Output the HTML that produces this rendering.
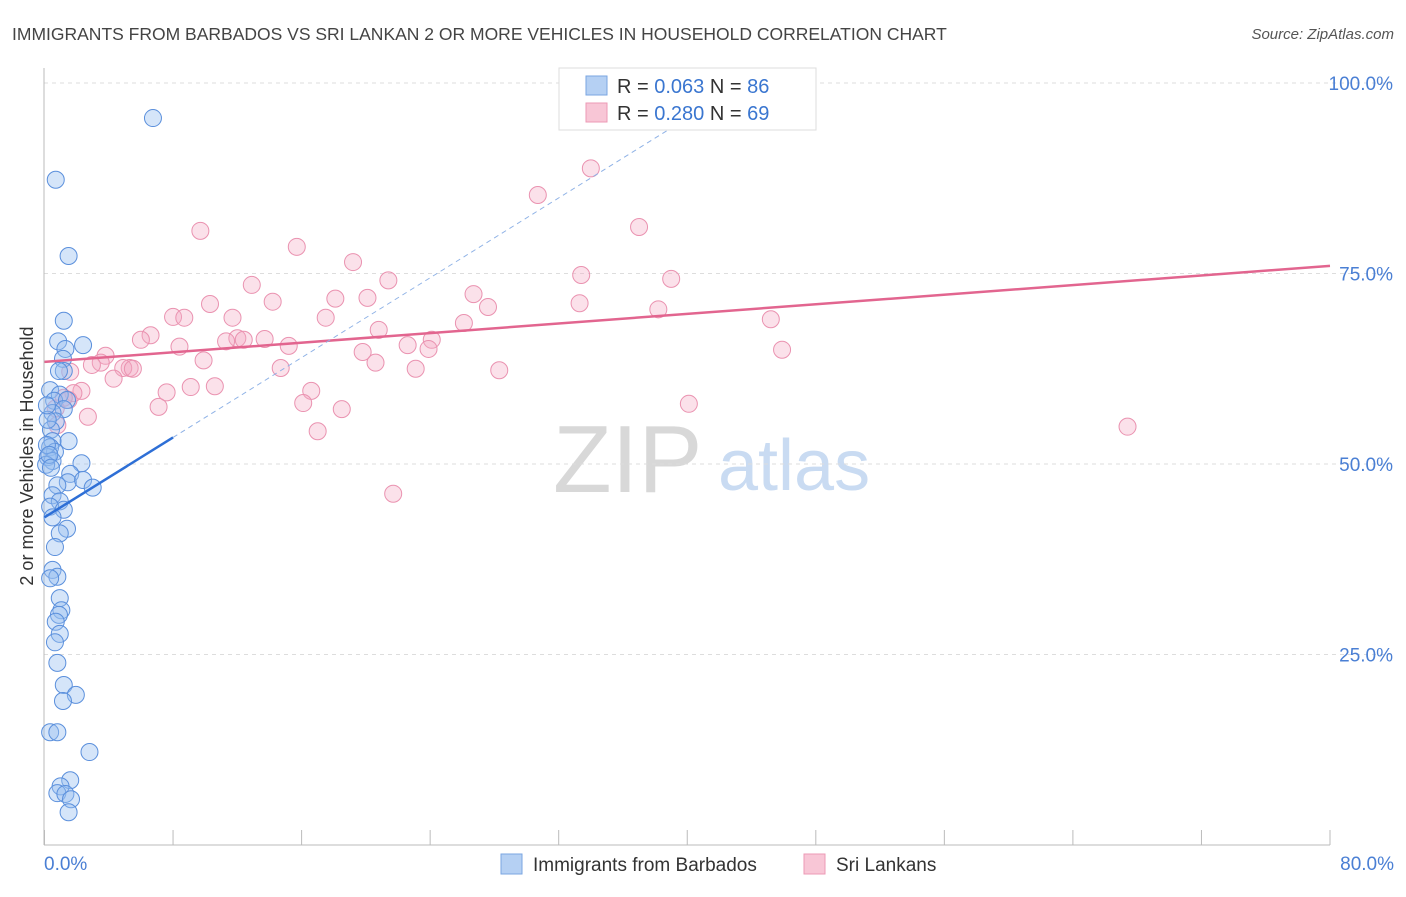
<!DOCTYPE html>
<html><head><meta charset="utf-8"><style>
body{margin:0;background:#fff;font-family:"Liberation Sans",sans-serif;}
svg text{font-family:"Liberation Sans",sans-serif;}
</style></head><body>
<svg id="chart" width="1406" height="892" xmlns="http://www.w3.org/2000/svg">
<text x="12" y="40" font-size="17.5" fill="#444">IMMIGRANTS FROM BARBADOS VS SRI LANKAN 2 OR MORE VEHICLES IN HOUSEHOLD CORRELATION CHART</text>
<text x="1394" y="39" font-size="15" fill="#555" text-anchor="end" font-style="italic">Source: ZipAtlas.com</text>
<g>
<text x="553" y="492" font-size="96" fill="#d8d8d8" font-family="Liberation Serif, serif">ZIP</text>
<text x="718" y="490" font-size="72" fill="#c9dbf2">atlas</text>
</g>
<g id="grid"></g><g id="axes"></g><g id="pts"></g><g id="lines"></g>
<text transform="translate(33,456) rotate(-90)" font-size="18" fill="#333" text-anchor="middle">2 or more Vehicles in Household</text>
<g>
<rect x="559" y="68" width="257" height="62" fill="#fff" stroke="#ddd"/>
<rect x="586" y="76" width="21" height="19" fill="#b5d0f3" stroke="#7aa6e2"/>
<text x="617" y="93" font-size="20" fill="#333">R = <tspan fill="#3a76d0">0.063</tspan>   N = <tspan fill="#3a76d0">86</tspan></text>
<rect x="586" y="103" width="21" height="19" fill="#f8c6d6" stroke="#ec9ab5"/>
<text x="617" y="120" font-size="20" fill="#333">R = <tspan fill="#3a76d0">0.280</tspan>   N = <tspan fill="#3a76d0">69</tspan></text>
</g>
<g>
<rect x="501" y="854" width="21" height="20" fill="#b5d0f3" stroke="#7aa6e2"/>
<text x="533" y="871" font-size="19" fill="#333">Immigrants from Barbados</text>
<rect x="804" y="854" width="21" height="20" fill="#f8c6d6" stroke="#ec9ab5"/>
<text x="836" y="871" font-size="19" fill="#333">Sri Lankans</text>
</g>
</svg>
<script>
const blueX=[6.75,0.7,1.5,1.2,2.4,0.85,1.3,1.15,1.2,0.9,0.35,0.95,0.6,1.4,1.2,0.5,0.7,0.4,1.5,0.5,0.35,0.65,0.2,0.5,2.3,1.6,1.45,0.8,2.4,3.0,0.5,0.95,0.35,1.2,0.5,1.4,0.95,0.65,0.5,0.8,0.35,0.95,1.05,0.9,0.7,0.95,0.65,0.8,1.2,1.95,1.15,0.35,0.8,2.8,1.6,1.0,0.8,1.3,1.65,1.5,0.15,0.1,0.3,0.4,0.2,0.15];
const blueY=[95.4,87.3,77.3,68.8,65.6,66.1,65.1,63.8,62.2,62.2,59.7,59.1,58.3,58.4,57.2,56.7,55.6,54.5,53.0,53.0,52.2,51.6,50.9,50.4,50.1,48.7,47.6,47.2,47.9,46.9,45.9,45.1,44.4,44.0,43.0,41.5,40.9,39.1,36.1,35.2,35.0,32.4,30.8,30.2,29.3,27.7,26.6,23.9,21.0,19.7,18.9,14.8,14.8,12.2,8.5,7.7,6.8,6.7,6.0,4.3,52.5,49.9,51.2,49.5,55.8,57.7];
const pinkX=[34.0,30.7,37.0,9.7,15.7,19.2,21.4,33.4,39.0,12.9,26.7,18.1,20.1,10.3,14.2,33.3,27.6,38.2,8.0,8.7,11.7,17.5,26.1,45.2,6.6,6.0,20.8,12.0,12.4,13.7,11.3,24.1,8.4,15.2,22.6,23.9,19.8,45.9,3.8,9.9,3.5,2.95,20.6,14.7,5.3,4.9,5.5,1.6,23.1,28.3,4.3,2.3,9.1,10.6,7.6,1.8,1.5,16.6,16.1,40.1,7.1,0.7,18.5,2.7,0.8,17.0,67.4,21.7,1.2];
const pinkY=[88.8,85.3,81.1,80.6,78.5,76.5,74.1,74.8,74.3,73.5,72.3,71.7,71.8,71.0,71.3,71.1,70.6,70.3,69.3,69.2,69.2,69.2,68.5,69.0,66.9,66.3,67.6,66.5,66.3,66.4,66.1,66.3,65.4,65.5,65.6,65.1,64.7,65.0,64.2,63.6,63.3,63.0,63.3,62.6,62.6,62.6,62.5,62.1,62.5,62.3,61.2,59.6,60.1,60.2,59.4,59.3,58.4,59.6,58.0,57.9,57.5,57.3,57.2,56.2,55.1,54.3,54.9,46.1,58.7];
const blueLine=[43.0,1.31];   // intercept, slope
const pinkLine=[63.4,0.1575];
const yTicks=[25,50,75,100];
const yTickLabels=["25.0%","50.0%","75.0%","100.0%"];
const xTicks=[0,8,16,24,32,40,48,56,64,72,80];
const NS="http://www.w3.org/2000/svg";
const sx=v=>44.5+v*1285.5/80;
const sy=v=>845-v*7.62;
function mk(parent,tag,attrs){const e=document.createElementNS(NS,tag);for(const k in attrs)e.setAttribute(k,attrs[k]);document.getElementById(parent).appendChild(e);return e;}
yTicks.forEach((t,i)=>{
 const g=mk('grid','line',{x1:44,x2:1394,y1:sy(t),y2:sy(t),stroke:'#ddd','stroke-dasharray':'4,4'});
 
 
 const l=mk('grid','text',{x:1393,y:sy(t)+7,'font-size':19,fill:'#4a7fd4','text-anchor':'end'});
 l.textContent=yTickLabels[i];
 
 
});
const ya=mk('axes','line',{x1:44,x2:44,y1:68,y2:845,stroke:'#bbb'});


const xa=mk('axes','line',{x1:44,x2:1330,y1:845,y2:845,stroke:'#bbb'});


xTicks.forEach(t=>{
 const tk=mk('axes','line',{x1:sx(t),x2:sx(t),y1:830,y2:845,stroke:'#bbb'});
 
 
});
const xl0=mk('axes','text',{x:44,y:870,'font-size':19,fill:'#4a7fd4'});xl0.textContent='0.0%';


const xl1=mk('axes','text',{x:1394,y:870,'font-size':19,fill:'#4a7fd4','text-anchor':'end'});xl1.textContent='80.0%';


pinkX.forEach((x,i)=>{
 const c=mk('pts','circle',{cx:sx(x),cy:sy(pinkY[i]),r:8.5,fill:'rgba(244,170,195,0.35)',stroke:'#ea92b0','stroke-width':1});
 
 
});
blueX.forEach((x,i)=>{
 const c=mk('pts','circle',{cx:sx(x),cy:sy(blueY[i]),r:8.5,fill:'rgba(150,190,240,0.4)',stroke:'#5a8fdc','stroke-width':1});
 
 
});
const pl=mk('lines','line',{x1:sx(0),y1:sy(pinkLine[0]),x2:sx(80),y2:sy(pinkLine[0]+pinkLine[1]*80),stroke:'#e2658f','stroke-width':2.5});


const bl=mk('lines','line',{x1:sx(0),y1:sy(blueLine[0]),x2:sx(8),y2:sy(blueLine[0]+blueLine[1]*8),stroke:'#2e6fd6','stroke-width':2.5});


const bd=mk('lines','line',{x1:sx(8),y1:sy(blueLine[0]+blueLine[1]*8),x2:sx(40.2),y2:sy(blueLine[0]+blueLine[1]*40.2),stroke:'#8fb2e6','stroke-width':1,'stroke-dasharray':'5,4'});


</script>
</body></html>
